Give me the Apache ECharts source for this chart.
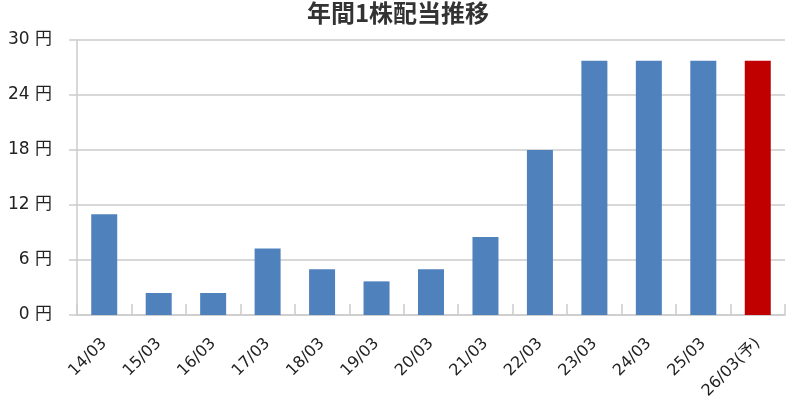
<!DOCTYPE html>
<html>
<head>
<meta charset="utf-8">
<script src="https://cdn.jsdelivr.net/npm/echarts@6/dist/echarts.min.js"></script>
<style>
html,body{margin:0;padding:0;background:#fff;}
#chart{width:796px;height:409px;}
</style>
</head>
<body>
<div id="chart"></div>
<script>
const title = '年間1株配当推移';
const categories = ['14/03','15/03','16/03','17/03','18/03','19/03','20/03','21/03','22/03','23/03','24/03','25/03','26/03(予)'];
const dividends = [11, 2.4, 2.4, 7.25, 5, 3.67, 5, 8.5, 18, 27.75, 27.75, 27.75, 27.75];
const yTicks = [0, 6, 12, 18, 24, 30];

const FONT = '"DejaVu Sans", "Noto Sans CJK JP", sans-serif';
const TITLE_FONT = '"Noto Sans CJK JP", sans-serif';
const BLUE = '#4f81bd';
const RED = '#c00000';
const GRID = '#cbcbcb';

const chart = echarts.init(document.getElementById('chart'), null, {renderer: 'canvas'});
chart.setOption({
  animation: false,
  backgroundColor: '#fff',
  title: {
    text: title,
    left: 'center',
    top: 0,
    padding: [1, 0, 0, 0],
    textStyle: {fontFamily: TITLE_FONT, fontSize: 24, fontWeight: 'bold', color: '#333'}
  },
  grid: {left: 77, right: 11, top: 40, bottom: 94, containLabel: false},
  xAxis: {
    type: 'category',
    data: categories,
    boundaryGap: true,
    axisLine: {show: true, lineStyle: {color: GRID, width: 1.5}},
    axisTick: {show: true, inside: true, length: 11, interval: 0, lineStyle: {color: GRID, width: 1.5}},
    axisLabel: {
      interval: 0, rotate: 45, margin: 26,
      fontFamily: FONT, fontSize: 16, color: '#222'
    },
    splitLine: {show: false}
  },
  yAxis: {
    type: 'value',
    min: yTicks[0],
    max: yTicks[yTicks.length - 1],
    interval: yTicks[1] - yTicks[0],
    axisLine: {show: true, lineStyle: {color: GRID, width: 1.5}},
    axisTick: {show: true, inside: false, length: 8, lineStyle: {color: GRID, width: 1.5}},
    axisLabel: {
      margin: 25,
      formatter: '{value} 円',
      fontFamily: FONT, fontSize: 17, color: '#222'
    },
    splitLine: {show: true, lineStyle: {color: GRID, width: 1.5}}
  },
  series: [{
    type: 'bar',
    barWidth: 26,
    data: dividends.map((v, i) => ({
      value: v,
      itemStyle: {color: categories[i].includes('予') ? RED : BLUE}
    }))
  }]
});
</script>
</body>
</html>
